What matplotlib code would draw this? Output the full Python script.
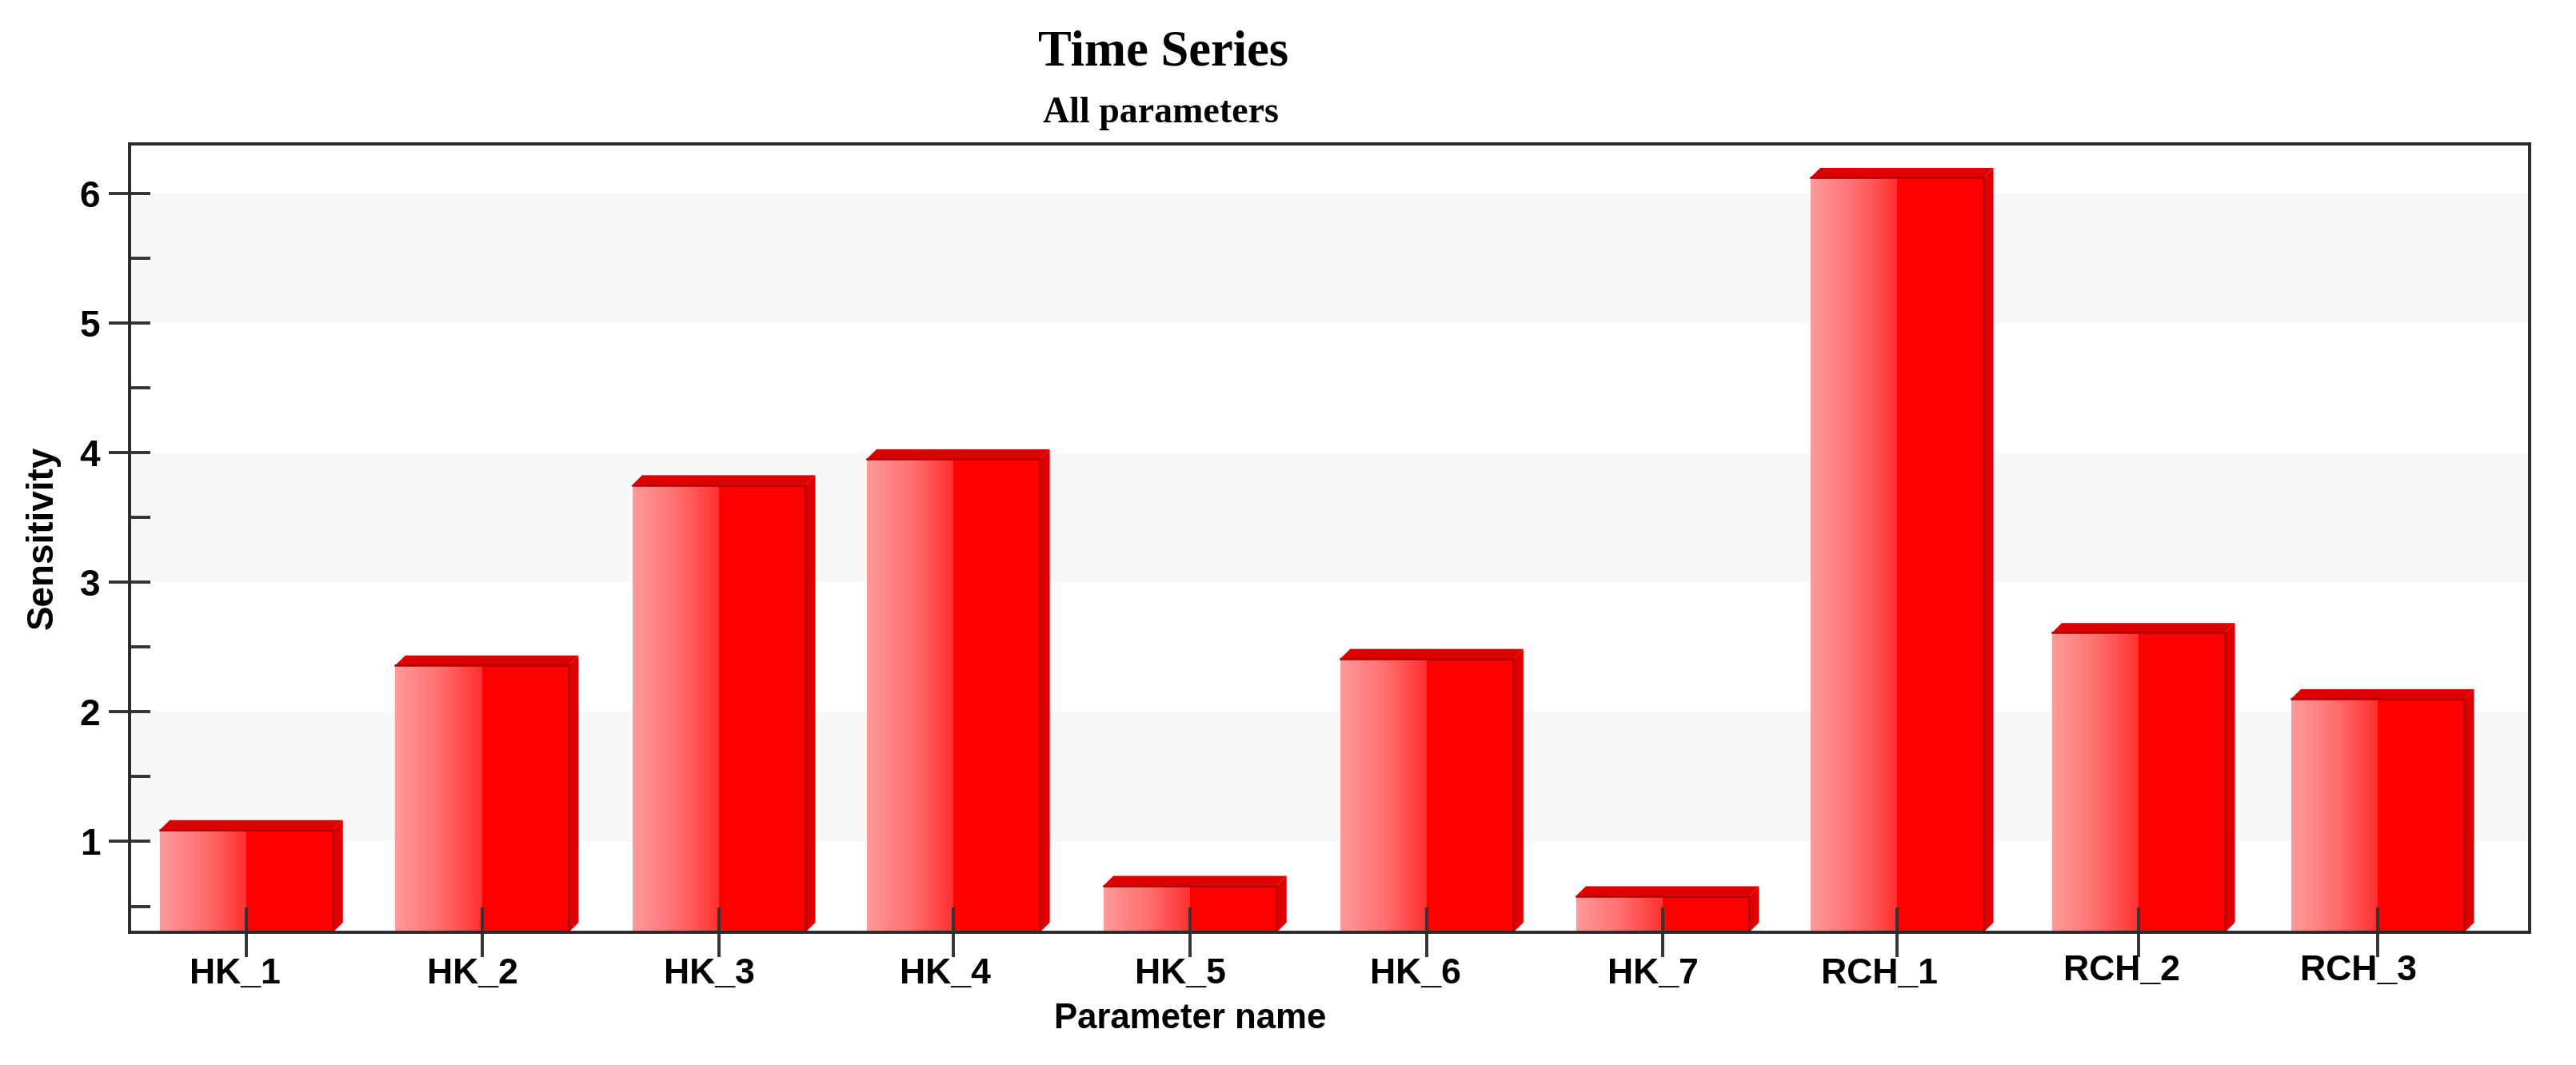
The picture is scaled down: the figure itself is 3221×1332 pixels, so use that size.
import numpy as np
import matplotlib
matplotlib.use('Agg')
import matplotlib.pyplot as plt
from matplotlib.colors import LinearSegmentedColormap
from matplotlib.patches import Polygon
from matplotlib.transforms import ScaledTranslation

names = ['HK_1', 'HK_2', 'HK_3', 'HK_4', 'HK_5', 'HK_6', 'HK_7', 'RCH_1', 'RCH_2', 'RCH_3']
bar_x = [0, 1, 2.005, 3, 4.005, 5.01, 6.01, 7.005, 8.03, 9.045]
sensitivity = [1.09, 2.36, 3.75, 3.95, 0.66, 2.41, 0.58, 6.12, 2.61, 2.10]
major_ticks = [1, 2, 3, 4, 5, 6]
minor_ticks = [0.5, 1.5, 2.5, 3.5, 4.5, 5.5]
bands = [(1, 2), (3, 4), (5, 6)]
label_shift_px = [-14, -12, -12, -10, -12, -14, -12, -22, -21, -24]
label_rise_px = [0, 0, 0, 0, 0, 0, 0, 0, 4, 4]

ymin, ymax = 0.3, 6.38
width = 0.735
dx, dy = 0.042, 0.075

plt.rcParams['font.family'] = 'Liberation Sans'
plt.rcParams['font.weight'] = 'bold'

fig = plt.figure(figsize=(32.21, 13.32), dpi=100)
ax = fig.add_axes([162 / 3221, 1 - 1166 / 1332, (3163 - 162) / 3221, (1166 - 180) / 1332])

for lo, hi in bands:
    ax.axhspan(lo, hi, color='#f8f8f8', lw=0, zorder=0)

fade = LinearSegmentedColormap.from_list('fade', ['#ff9a9a', '#ff7070', '#ff3030'])
gradient = np.linspace(0, 1, 64).reshape(1, -1)

for x, val in zip(bar_x, sensitivity):
    left = x - width / 2
    right = x + width / 2
    # shaded left half, flat right half
    ax.imshow(gradient, cmap=fade, extent=(left, x, ymin, val), aspect='auto', zorder=1.2)
    ax.bar(x, val - ymin, bottom=ymin, width=width / 2, align='edge', color='#ff0000', lw=0, zorder=1.2)
    # top and side faces
    ax.add_patch(Polygon([(left, val), (left + dx, val + dy), (right + dx, val + dy), (right, val)],
                         fc='#dc0000', ec='none', zorder=1.3))
    ax.add_patch(Polygon([(right, ymin), (right + dx, ymin + dy), (right + dx, val + dy), (right, val)],
                         fc='#e00000', ec='none', zorder=1.3))
    ax.plot([left, right, right], [val, val, ymin], color='#b00000', lw=1.8, zorder=1.4)

ax.set_xlim(-0.496, 9.69)
ax.set_ylim(ymin, ymax)

ax.set_yticks(major_ticks)
ax.set_yticks(minor_ticks, minor=True)
ax.set_xticks(bar_x)
ax.set_xticklabels(names)
ax.tick_params(axis='y', which='major', direction='inout', length=37, width=2.8, color='#333333',
               labelsize=33, pad=8)
ax.tick_params(axis='y', which='minor', direction='in', length=19, width=2.8, color='#333333')
ax.tick_params(axis='x', which='major', direction='inout', length=44, width=2.8, color='#333333',
               labelsize=32, pad=1)

for label, shift, rise in zip(ax.get_xticklabels(), label_shift_px, label_rise_px):
    label.set_transform(label.get_transform() + ScaledTranslation(shift / 100, rise / 100, fig.dpi_scale_trans))

for spine in ax.spines.values():
    spine.set_linewidth(2.8)
    spine.set_color('#2a2a2a')

fig.text(0.4515, 1 - 66 / 1332, 'Time Series', family='Liberation Serif', fontweight='bold',
         fontsize=45, ha='center', va='center')
fig.text(0.4505, 1 - 142 / 1332, 'All parameters', family='Liberation Serif', fontweight='bold',
         fontsize=33, ha='center', va='center')
fig.text(724.5 / 1568, 1 - 620 / 648, 'Parameter name', fontsize=31.5, fontweight='bold', ha='center', va='center')
fig.text(26 / 1568, 1 - 327 / 648, 'Sensitivity', fontsize=33, fontweight='bold', rotation=90,
         ha='center', va='center')

fig.savefig('out.png', dpi=100, facecolor='white')
